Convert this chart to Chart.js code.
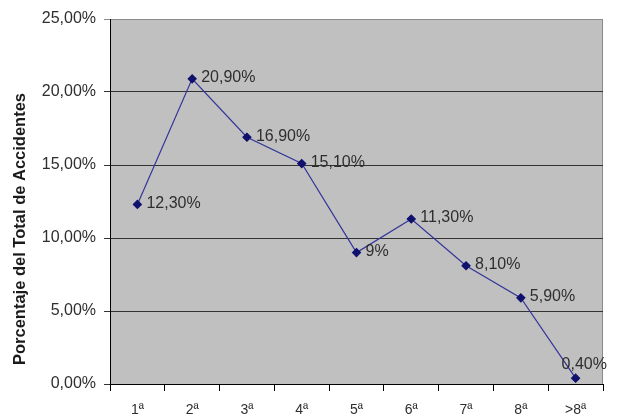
<!DOCTYPE html>
<html>
<head>
<meta charset="utf-8">
<script src="https://cdn.jsdelivr.net/npm/chart.js@4"></script>
<style>
  html, body { margin: 0; padding: 0; background: #fff; }
  #wrap { width: 621px; height: 418px; }
</style>
</head>
<body>
<div id="wrap"><canvas id="chart" width="621" height="418"></canvas></div>
<script>
// datos
const categorias = ['1ª', '2ª', '3ª', '4ª', '5ª', '6ª', '7ª', '8ª', '>8ª'];
const porcentajes = [12.3, 20.9, 16.9, 15.1, 9, 11.3, 8.1, 5.9, 0.4];
const etiquetas = ['12,30%', '20,90%', '16,90%', '15,10%', '9%', '11,30%', '8,10%', '5,90%', '0,40%'];
const tituloY = 'Porcentaje del Total de Accidentes';

const FONT = 'Liberation Sans, Arial, sans-serif';

// fondo gris del área de trazado + bordes superior/derecho
const fondoPlot = {
  id: 'fondoPlot',
  beforeDraw(chart){
    const {ctx, chartArea: a} = chart;
    ctx.save();
    ctx.fillStyle = '#c0c0c0';
    ctx.fillRect(a.left, a.top, a.right - a.left, a.bottom - a.top);
    ctx.strokeStyle = '#8a8a8a';
    ctx.lineWidth = 1;
    ctx.beginPath();
    ctx.moveTo(a.left, a.top + 0.5);
    ctx.lineTo(a.right - 0.5, a.top + 0.5);
    ctx.lineTo(a.right - 0.5, a.bottom);
    ctx.stroke();
    ctx.restore();
  }
};

// etiquetas de datos a la derecha de cada punto
const etiquetasDatos = {
  id: 'etiquetasDatos',
  afterDatasetsDraw(chart){
    const {ctx, chartArea: a} = chart;
    const meta = chart.getDatasetMeta(0);
    ctx.save();
    ctx.font = '16px ' + FONT;
    ctx.fillStyle = '#2e2e2e';
    ctx.textBaseline = 'middle';
    ctx.textAlign = 'left';
    meta.data.forEach((pt, i) => {
      const txt = etiquetas[i];
      const w = ctx.measureText(txt).width;
      let x = pt.x + 9, y = pt.y - 1;
      if (x + w > a.right + 10){ x = pt.x - 14; y = pt.y - 14; }
      ctx.fillText(txt, x, y);
    });
    ctx.restore();
  }
};

// título del eje Y
const tituloEje = {
  id: 'tituloEje',
  afterDraw(chart){
    const {ctx} = chart;
    ctx.save();
    ctx.translate(20, 229);
    ctx.rotate(-Math.PI / 2);
    ctx.font = 'bold 16.5px ' + FONT;
    ctx.fillStyle = '#1a1a1a';
    ctx.textAlign = 'center';
    ctx.textBaseline = 'middle';
    ctx.fillText(tituloY, 0, 0);
    ctx.restore();
  }
};

new Chart(document.getElementById('chart'), {
  type: 'line',
  data: {
    labels: categorias,
    datasets: [{
      data: porcentajes,
      borderColor: '#35359a',
      borderWidth: 1.2,
      pointStyle: 'rectRot',
      pointRadius: 4,
      pointBackgroundColor: '#10106e',
      pointBorderColor: '#10106e',
      tension: 0
    }]
  },
  options: {
    responsive: false,
    animation: false,
    layout: { padding: { top: 19, right: 18, left: 0, bottom: 0 } },
    plugins: { legend: { display: false }, tooltip: { enabled: false } },
    scales: {
      x: {
        offset: true,
        grid: { drawOnChartArea: false, offset: true, tickLength: 7, color: '#000' },
        border: { color: '#000', width: 1 },
        ticks: { color: '#2e2e2e', font: { family: FONT, size: 14 }, padding: 11, maxRotation: 0 },
        afterFit(s){ s.height = 34; }
      },
      y: {
        min: 0, max: 25,
        ticks: {
          stepSize: 5,
          color: '#2e2e2e',
          font: { family: FONT, size: 16 },
          padding: 8,
          callback: v => v.toFixed(2).replace('.', ',') + '%'
        },
        grid: {
          tickLength: 6,
          color: c => c.tick && c.tick.value === 25 ? '#8a8a8a' : '#333',
          lineWidth: 1
        },
        border: { color: '#000', width: 1 },
        afterFit(s){ s.width = 110; }
      }
    }
  },
  plugins: [fondoPlot, etiquetasDatos, tituloEje]
});
</script>
</body>
</html>
